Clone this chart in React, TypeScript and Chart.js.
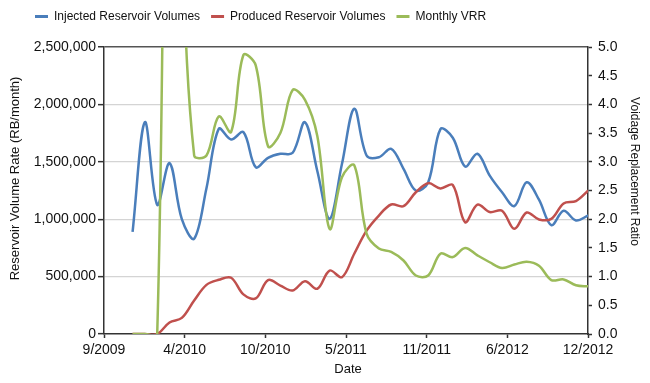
import { useEffect, useRef } from 'react';
import { Chart, registerables } from 'chart.js';

Chart.register(...registerables);

// Monthly data points (Nov 2009 .. Dec 2012)
const months = [
  '2009-11', '2009-12',
  '2010-01', '2010-02', '2010-03', '2010-04', '2010-05', '2010-06', '2010-07', '2010-08', '2010-09', '2010-10', '2010-11', '2010-12',
  '2011-01', '2011-02', '2011-03', '2011-04', '2011-05', '2011-06', '2011-07', '2011-08', '2011-09', '2011-10', '2011-11', '2011-12',
  '2012-01', '2012-02', '2012-03', '2012-04', '2012-05', '2012-06', '2012-07', '2012-08', '2012-09', '2012-10', '2012-11', '2012-12',
];

const injected = [
  890000, 1845000, 1125000, 1488000, 1000000, 830000, 1270000, 1787000, 1694000, 1758000,
  1453000, 1535000, 1570000, 1578000, 1845000, 1420000, 1003000, 1480000, 1962000, 1555000,
  1540000, 1613000, 1439000, 1250000, 1320000, 1785000, 1710000, 1459000, 1570000, 1380000,
  1235000, 1115000, 1322000, 1170000, 948000, 1073000, 989000, 1032000,
];

const produced = [
  0, 0, 0, 100000, 140000, 292000, 428000, 472000, 490000, 345000,
  310000, 470000, 422000, 379000, 460000, 394000, 553000, 495000, 699000, 900000,
  1032000, 1128000, 1113000, 1235000, 1314000, 1268000, 1298000, 974000, 1127000, 1062000,
  1074000, 916000, 1058000, 998000, 1003000, 1137000, 1158000, 1250000,
];

const monthlyVRR = [
  0, 0, 0, 14.9, 7.1, 3.11, 3.11, 3.79, 3.52, 4.86,
  4.68, 3.27, 3.5, 4.25, 4.08, 3.45, 1.83, 2.73, 2.94, 1.75,
  1.49, 1.43, 1.28, 1.02, 1.02, 1.4, 1.34, 1.5, 1.37, 1.25,
  1.15, 1.21, 1.26, 1.19, 0.94, 0.95, 0.85, 0.83,
];

const xTickLabels = ['9/2009', '4/2010', '10/2010', '5/2011', '11/2011', '6/2012', '12/2012'];
const seriesNames = ['Injected Reservoir Volumes', 'Produced Reservoir Volumes', 'Monthly VRR'];
const xTitle = 'Date';
const yTitle = 'Reservoir Volume Rate (RB/month)';
const y1Title = 'Voidage Replacement Ratio';

// axis range expressed in month-index units (index 0 = first month above)
const X_MIN = -2.32;
const X_MAX = 36.98;

const BLUE = '#4a7ebb';
const RED = '#c0504d';
const GREEN = '#9bbb59';
const AXIS = '#333333';
const TEXT = '#111111';
const FONT = '"Liberation Sans", Arial, Helvetica, sans-serif';

export default function App() {
  const canvasRef = useRef<HTMLCanvasElement>(null);

  useEffect(() => {
    document.body.style.margin = '0';
    const canvas = canvasRef.current;
    if (!canvas) return;
    Chart.defaults.font.family = FONT;

    const toPoints = (arr: number[]) => arr.map((v, i) => ({ x: i, y: v }));
    void months;

    const legendTweak = {
      id: 'legendTweak',
      beforeInit(chart: any) {
        const legend = chart.legend;
        if (legend) {
          const origFit = legend.fit;
          legend.fit = function () {
            origFit.call(this);
            this.height = 47;
          };
        }
      },
      afterLayout(chart: any) {
        const legend = chart.legend;
        if (legend) {
          const w = legend.right - legend.left;
          legend.left = 24;
          legend.right = 24 + w;
          legend.top = -0.5;
        }
      },
    };

    const axisTitles = {
      id: 'axisTitles',
      afterDraw(chart: any) {
        const { ctx, chartArea } = chart;
        const midY = (chartArea.top + chartArea.bottom) / 2;
        const midX = (chartArea.left + chartArea.right) / 2;
        ctx.save();
        ctx.fillStyle = TEXT;
        ctx.textAlign = 'center';
        ctx.textBaseline = 'middle';
        ctx.font = `13px ${FONT}`;
        ctx.fillText(xTitle, midX + 2, 369);
        ctx.save();
        ctx.translate(15, midY - 12);
        ctx.rotate(-Math.PI / 2);
        ctx.fillText(yTitle, 0, 0);
        ctx.restore();
        ctx.save();
        ctx.font = `12px ${FONT}`;
        ctx.translate(634, midY - 19);
        ctx.rotate(Math.PI / 2);
        ctx.fillText(y1Title, 0, 0);
        ctx.restore();
        ctx.restore();
      },
    };

    const chart = new Chart(canvas, {
      type: 'line',
      data: {
        datasets: [
          {
            label: seriesNames[0],
            data: toPoints(injected),
            borderColor: BLUE,
            backgroundColor: BLUE,
            yAxisID: 'y',
            order: 3,
          },
          {
            label: seriesNames[1],
            data: toPoints(produced),
            borderColor: RED,
            backgroundColor: RED,
            yAxisID: 'y',
            order: 2,
          },
          {
            label: seriesNames[2],
            data: toPoints(monthlyVRR),
            borderColor: GREEN,
            backgroundColor: GREEN,
            yAxisID: 'y1',
            order: 1,
          },
        ],
      },
      options: {
        animation: false,
        responsive: false,
        layout: { padding: 0 },
        elements: {
          point: { radius: 0, hoverRadius: 0 },
          line: { borderWidth: 2.5, tension: 0.35, capBezierPoints: false, fill: false },
        },
        plugins: {
          tooltip: { enabled: false },
          legend: {
            position: 'top',
            align: 'start',
            labels: {
              boxWidth: 13,
              boxHeight: 3,
              padding: 11,
              color: TEXT,
              font: { size: 12 },
              sort: (a: any, b: any) => a.datasetIndex - b.datasetIndex,
              generateLabels: (c: any) =>
                Chart.defaults.plugins.legend.labels.generateLabels(c).map((it: any) => ({
                  ...it,
                  lineWidth: 0,
                  fillStyle: it.strokeStyle,
                })),
            },
          },
        },
        scales: {
          x: {
            type: 'linear',
            position: 'bottom',
            min: X_MIN,
            max: X_MAX,
            afterBuildTicks: (s: any) => {
              const n = xTickLabels.length - 1;
              s.ticks = xTickLabels.map((_, i) => ({ value: X_MIN + (i * (X_MAX - X_MIN)) / n }));
            },
            ticks: {
              autoSkip: false,
              maxRotation: 0,
              padding: 4,
              color: TEXT,
              font: { size: 14 },
              callback: (_v: any, i: number) => xTickLabels[i],
            },
            grid: { drawOnChartArea: false, drawTicks: true, tickLength: 4, tickColor: AXIS, tickWidth: 1.5 },
            border: { display: true, color: AXIS, width: 1.5 },
            title: { display: false },
            afterFit: (s: any) => {
              s.height = 49;
            },
          },
          y: {
            type: 'linear',
            position: 'left',
            min: 0,
            max: 2500000,
            ticks: {
              stepSize: 500000,
              padding: 2,
              color: TEXT,
              font: { size: 14 },
              callback: (v: any) => Number(v).toLocaleString('en-US'),
            },
            grid: {
              drawTicks: true,
              tickLength: 6,
              tickColor: AXIS,
              tickWidth: 1.5,
              color: (ctx: any) => {
                const v = ctx.tick ? ctx.tick.value : null;
                if (v === 0) return 'rgba(0,0,0,0)';
                if (v === 2500000) return '#555555';
                return '#d4d4d4';
              },
              lineWidth: (ctx: any) => (ctx.tick && ctx.tick.value === 2500000 ? 1.5 : 1.3),
            },
            border: { display: true, color: AXIS, width: 1.5 },
            title: { display: false },
            afterFit: (s: any) => {
              s.width = 104;
            },
          },
          y1: {
            type: 'linear',
            position: 'right',
            min: 0,
            max: 5,
            ticks: {
              stepSize: 0.5,
              padding: 6,
              color: TEXT,
              font: { size: 14 },
              callback: (v: any) => Number(v).toFixed(1),
            },
            grid: { drawOnChartArea: false, drawTicks: true, tickLength: 4, tickColor: AXIS, tickWidth: 1.5 },
            border: { display: true, color: AXIS, width: 1.5 },
            title: { display: false },
            afterFit: (s: any) => {
              s.width = 62;
            },
          },
        },
      },
      plugins: [legendTweak, axisTitles],
    });

    return () => chart.destroy();
  }, []);

  return (
    <div style={{ position: 'absolute', left: 0, top: 0, width: 650, height: 383, background: '#fff' }}>
      <canvas ref={canvasRef} width={650} height={383} style={{ display: 'block' }} />
    </div>
  );
}
